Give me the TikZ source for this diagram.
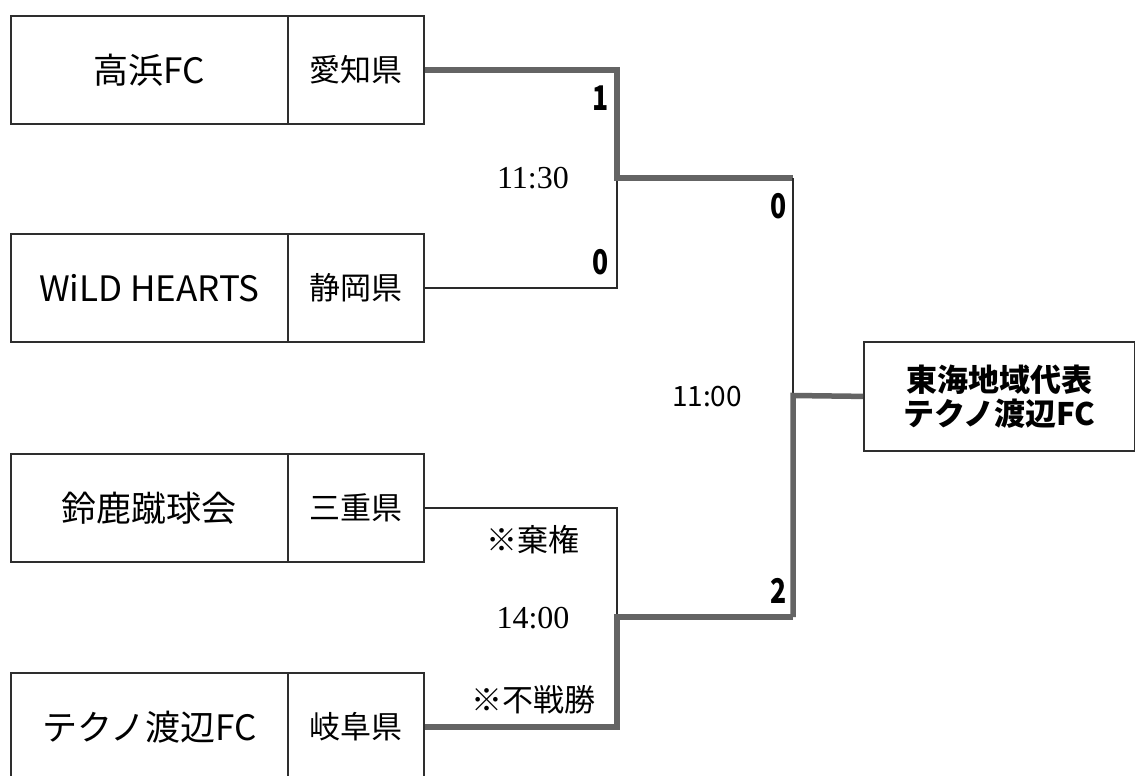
\documentclass[tikz,border=0pt]{standalone}
\usepackage{fontspec}
\usepackage{graphicx}
\setmainfont{Noto Sans CJK JP}
\newfontfamily\serifnum{Liberation Serif}
\definecolor{boxc}{HTML}{2E2E2E}
\definecolor{winc}{HTML}{646464}
\definecolor{losec}{HTML}{2A2A2A}
\newcommand{\narrowdigit}[1]{\scalebox{0.78}[1]{#1}}
\begin{document}
\begin{tikzpicture}[x=1pt,y=-1pt,
  teamcell/.style={draw=boxc, line width=1.8pt, inner sep=0pt, anchor=north west,
    minimum width=277pt, minimum height=108pt, font=\fontsize{35}{40}\selectfont},
  prefcell/.style={draw=boxc, line width=1.8pt, inner sep=0pt, anchor=north west,
    minimum width=136pt, minimum height=108pt, font=\fontsize{31}{36}\selectfont},
  finalcell/.style={draw=boxc, line width=1.8pt, inner sep=0pt, anchor=north west,
    minimum width=271pt, minimum height=109pt, align=center,
    font=\fontsize{31}{34}\selectfont\bfseries},
  win/.style={draw=winc, line width=5.5pt, line join=miter},
  lose/.style={draw=losec, line width=1.8pt},
  score/.style={font=\fontsize{34}{40}\selectfont\bfseries, inner sep=0pt},
  timel/.style={font=\serifnum\fontsize{32}{36}\selectfont, inner sep=0pt},
  timesans/.style={font=\fontsize{28}{32}\selectfont, inner sep=0pt},
  note/.style={font=\fontsize{31}{36}\selectfont, inner sep=0pt}
]
\useasboundingbox (0,0) rectangle (1135,776);
\clip (0,0) rectangle (1135,776);
\fill[white] (0,0) rectangle (1135,776);

% team boxes
\node[teamcell] (t1) at (10,15) {高浜FC};
\node[prefcell] (p1) at (287,15) {愛知県};
\node[teamcell] (t2) at (10,233) {WiLD HEARTS};
\node[prefcell] (p2) at (287,233) {静岡県};
\node[teamcell] (t3) at (10,453) {鈴鹿蹴球会};
\node[prefcell] (p3) at (287,453) {三重県};
\node[teamcell] (t4) at (10,672) {テクノ渡辺FC};
\node[prefcell] (p4) at (287,672) {岐阜県};

% final box
\node[finalcell] (fin) at (863,341) {東海地域代表\\テクノ渡辺FC};

% junctions
\coordinate (j1) at (617,178);
\coordinate (j2) at (617,617);
\coordinate (s1) at (793,178);
\coordinate (s2) at (793,617);
\coordinate (fj) at (793,395.5);

% first round, upper
\draw[lose] (p2.east) -| (j1);
\draw[win] (p1.east) -| (j1) -- (s1);
% first round, lower
\draw[lose] (p3.east) -| (j2);
\draw[win] (p4.east) -| (j2) -- (s2);
% semifinal
\draw[lose] (s1) -- (fj);
\draw[win] (s2) -- (fj) -- (fin.west);

% labels
\node[score] (sc1) at (601,98) {\narrowdigit{1}};
\node[score] (sc2) at (601,262) {\narrowdigit{0}};
\node[timel] (tm1) at (533,178) {11:30};
\node[score] (sc3) at (779,206) {\narrowdigit{0}};
\node[score] (sc4) at (779,591) {\narrowdigit{2}};
\node[timesans] (tm2) at (707,397) {11:00};
\node[note] (n1) at (533,540) {※棄権};
\node[timel] (tm3) at (533,618) {14:00};
\node[note] (n2) at (533,700) {※不戦勝};
\end{tikzpicture}
\end{document}
